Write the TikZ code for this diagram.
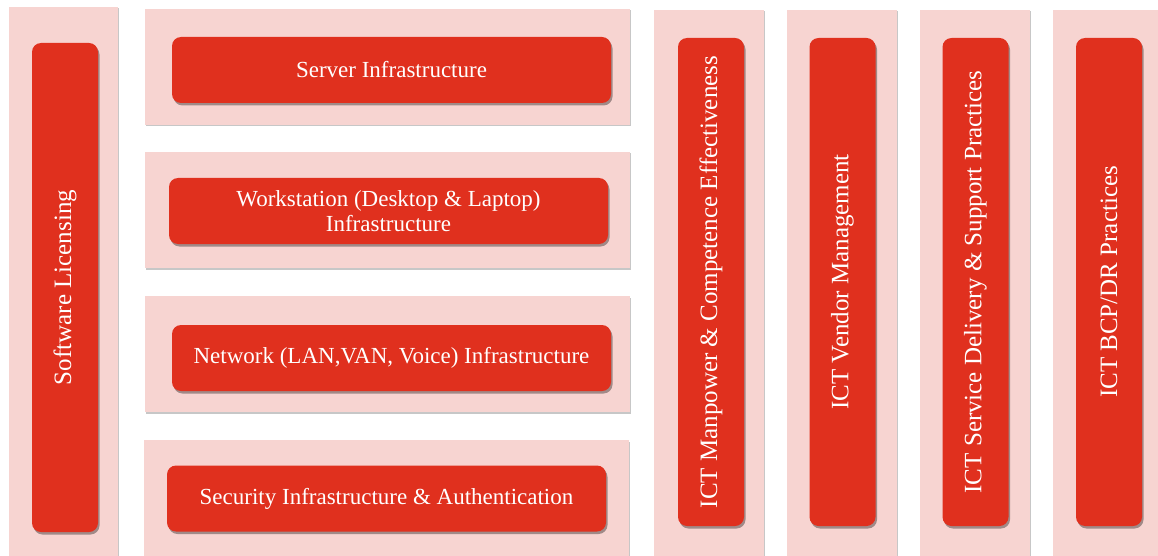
\documentclass[tikz,border=0pt]{standalone}
\usepackage{fontspec}
\setmainfont{Liberation Serif}
\usepackage{xcolor}
\usepackage{tikz}
\usetikzlibrary{shadows}
\definecolor{ictred}{HTML}{E0301E}
\definecolor{ictpink}{HTML}{F7D4D1}
\tikzset{
    panel/.style = {rectangle, fill=ictpink, inner sep=0pt,
        drop shadow={shadow xshift=1.2pt, shadow yshift=-1.5pt, opacity=0.22, fill=black}},
    redbox/.style = {rectangle, fill=ictred, rounded corners=9pt, inner sep=0pt, text=white, align=center,
        drop shadow={shadow xshift=1.5pt, shadow yshift=-2.5pt, opacity=0.35, fill=black}},
    hbox/.style = {redbox, minimum width=439pt, minimum height=66pt, font=\fontsize{23}{25}\selectfont},
    vbox/.style = {redbox, minimum width=66pt, minimum height=488pt, font=\fontsize{25}{27}\selectfont},
    hpanel/.style = {panel, minimum width=485pt, minimum height=116pt},
    vpanel/.style = {panel, minimum width=110pt, minimum height=546pt}
}
\begin{document}
\begin{tikzpicture}[x=1pt, y=-1pt]
    \useasboundingbox (0,0) rectangle (1158,556);

    % left column
    \node [panel, minimum width=109pt, minimum height=549pt] (licp) at (63.5,281.5) {};
    \node [vbox, minimum height=489pt] (lic) at (65,287.5) {\rotatebox{90}{Software Licensing}};

    % infrastructure rows
    \node [hpanel] (srvp) at (387.5,67) {};
    \node [hbox] (srv) at (391.5,70) {Server Infrastructure};

    \node [hpanel] (wksp) at (387.5,210) {};
    \node [hbox] (wks) at (388.5,211) {Workstation (Desktop \& Laptop)\\Infrastructure};

    \node [hpanel] (netp) at (387.5,354) {};
    \node [hbox] (net) at (391.5,358) {Network (LAN,VAN, Voice) Infrastructure};

    \node [hpanel] (secp) at (386.5,498) {};
    \node [hbox] (sec) at (386.5,498.5) {Security Infrastructure \& Authentication};

    % right columns
    \node [vpanel] (manp) at (709,283) {};
    \node [vbox] (man) at (711,282) {\rotatebox{90}{ICT Manpower \& Competence Effectiveness}};

    \node [vpanel] (venp) at (842,283) {};
    \node [vbox] (ven) at (842.5,282) {\rotatebox{90}{ICT Vendor Management}};

    \node [vpanel] (svcp) at (975,283) {};
    \node [vbox] (svc) at (975.5,282) {\rotatebox{90}{ICT Service Delivery \& Support Practices}};

    \node [vpanel] (bcpp) at (1108,283) {};
    \node [vbox] (bcp) at (1109,282) {\rotatebox{90}{ICT BCP/DR Practices}};
\end{tikzpicture}
\end{document}
